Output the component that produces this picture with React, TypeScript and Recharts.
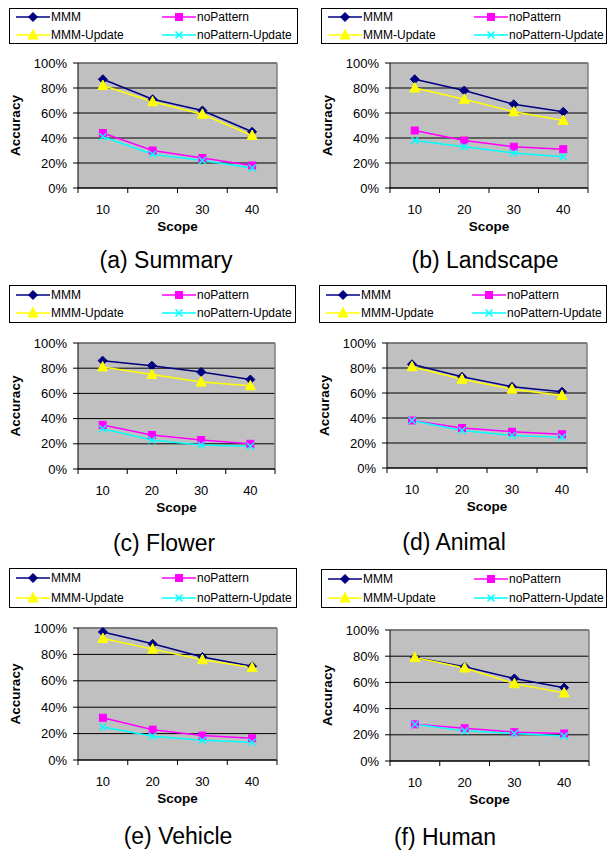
import React from 'react';
import { LineChart, Line, XAxis, YAxis, CartesianGrid, ReferenceLine, Legend, Label } from 'recharts';

const scopes = [10, 20, 30, 40];
const seriesNames = ['MMM', 'noPattern', 'MMM-Update', 'noPattern-Update'];
const yTicks = [0, 20, 40, 60, 80, 100];
// category boundaries (tick marks) and centres (labels)
const xTicks = [5, 10, 15, 20, 25, 30, 35, 40, 45];

// accuracy in %
const summaryMMM = [87, 71, 62, 45];
const summaryNoPattern = [44, 30, 24, 18];
const summaryMMMUpdate = [82, 69, 59, 42];
const summaryNoPatternUpdate = [41, 27, 22, 16];

const landscapeMMM = [87, 78, 67, 61];
const landscapeNoPattern = [46, 38, 33, 31];
const landscapeMMMUpdate = [80, 71, 61, 54];
const landscapeNoPatternUpdate = [38, 33, 28, 25];

const flowerMMM = [86, 82, 77, 71];
const flowerNoPattern = [35, 27, 23, 20];
const flowerMMMUpdate = [81, 75, 69, 66];
const flowerNoPatternUpdate = [32, 23, 19, 18];

const animalMMM = [83, 73, 65, 61];
const animalNoPattern = [38, 32, 29, 27];
const animalMMMUpdate = [81, 71, 63, 58];
const animalNoPatternUpdate = [38, 30, 26, 24.5];

const vehicleMMM = [97, 88, 78, 71];
const vehicleNoPattern = [32, 23, 18.5, 16.5];
const vehicleMMMUpdate = [92, 84, 76, 70];
const vehicleNoPatternUpdate = [25, 18, 15, 13.5];

const humanMMM = [79, 72, 63, 56];
const humanNoPattern = [28, 25, 22, 21];
const humanMMMUpdate = [79, 71, 59, 52];
const humanNoPatternUpdate = [28, 23, 21, 19];

const FONT = '"Liberation Sans", Arial, Helvetica, sans-serif';
const COLORS: Record<string, string> = {
  'MMM': '#000080',
  'noPattern': '#ff00ff',
  'MMM-Update': '#ffff00',
  'noPattern-Update': '#00ffff',
};

const TICK_SIZE = 5;
const TICK_MARGIN = 12;

const Marker = ({ kind, cx, cy }: { kind: string; cx: number; cy: number }) => {
  const c = COLORS[kind];
  if (kind === 'MMM') {
    return <polygon points={`${cx},${cy - 4.5} ${cx + 4.5},${cy} ${cx},${cy + 4.5} ${cx - 4.5},${cy}`} fill={c} stroke={c} />;
  }
  if (kind === 'noPattern') {
    return <rect x={cx - 3.5} y={cy - 3.5} width={7} height={7} fill={c} stroke={c} />;
  }
  if (kind === 'MMM-Update') {
    return <polygon points={`${cx},${cy - 5.5} ${cx + 5},${cy + 4} ${cx - 5},${cy + 4}`} fill={c} stroke={c} />;
  }
  return (
    <path
      d={`M${cx - 3.5},${cy - 3.5}L${cx + 3.5},${cy + 3.5}M${cx + 3.5},${cy - 3.5}L${cx - 3.5},${cy + 3.5}`}
      stroke={c}
      strokeWidth={1.5}
      fill="none"
    />
  );
};

const dotFor = (name: string) => (p: any) => (
  <Marker key={`${name}-${p.index}`} kind={name} cx={p.cx} cy={p.cy} />
);

// labels sit in the middle of each category, tick marks on the boundaries
const XTick = (props: any) => {
  const { x, y, payload } = props;
  if (payload.value % 10 === 0) {
    return (
      <text x={x} y={y} dy="0.71em" textAnchor="middle" fontSize={13} fill="#000">
        {payload.value}
      </text>
    );
  }
  return <line x1={x} x2={x} y1={y - TICK_SIZE - TICK_MARGIN} y2={y - TICK_MARGIN} stroke="#000" />;
};

const legendSlots = [
  { name: 'MMM', col: 0, row: 0 },
  { name: 'noPattern', col: 1, row: 0 },
  { name: 'MMM-Update', col: 0, row: 1 },
  { name: 'noPattern-Update', col: 1, row: 1 },
];

const LegendBox = ({ w, h }: { w: number; h: number }) => (
  <div
    style={{
      width: w,
      height: h,
      border: '1px solid #000',
      boxSizing: 'border-box',
      position: 'relative',
      background: '#fff',
      fontFamily: FONT,
      fontSize: 12,
      color: '#000',
    }}
  >
    {legendSlots.map((s) => {
      const left = s.col ? 152 : 6;
      const cy = s.row ? h * 0.74 - 1 : h * 0.26 - 1;
      return (
        <div key={s.name} style={{ position: 'absolute', left, top: cy - 7, height: 14, whiteSpace: 'nowrap' }}>
          <svg width={34} height={14} style={{ position: 'absolute', left: 0, top: 0 }}>
            <line x1={0} x2={34} y1={7} y2={7} stroke={COLORS[s.name]} strokeWidth={1.5} />
            <Marker kind={s.name} cx={17} cy={7} />
          </svg>
          <span style={{ position: 'absolute', left: 35, top: 0, lineHeight: '14px' }}>{s.name}</span>
        </div>
      );
    })}
  </div>
);

type Box = { l: number; r: number; t: number; b: number };

interface PanelProps {
  ox: number;
  oy: number;
  h: number;
  plot: Box;
  legend: { x: number; y: number; w: number; h: number };
  caption: string;
  capX: number;
  capY: number;
  series: number[][];
}

const Panel = ({ ox, oy, h, plot, legend, caption, capX, capY, series }: PanelProps) => {
  const data = scopes.map((s, i) => {
    const row: Record<string, number> = { scope: s };
    seriesNames.forEach((n, k) => {
      row[n] = series[k][i];
    });
    return row;
  });
  const w = 304;
  const yw = 70;
  const xh = 40;
  const margin = {
    top: plot.t - oy,
    left: plot.l - ox - yw,
    right: ox + w - plot.r,
    bottom: oy + h - plot.b - xh,
  };
  return (
    <div style={{ position: 'absolute', left: ox, top: oy, width: w, height: h }}>
      <LineChart width={w} height={h} data={data} margin={margin}>
        <CartesianGrid vertical={false} stroke="#000" fill="#c0c0c0" fillOpacity={1} />
        <XAxis
          dataKey="scope"
          type="number"
          domain={[5, 45]}
          ticks={xTicks}
          interval={0}
          height={xh}
          tickLine={false}
          tickSize={TICK_SIZE}
          tickMargin={TICK_MARGIN}
          tick={<XTick />}
          axisLine={{ stroke: '#000' }}
        >
          <Label
            content={({ viewBox }: any) => (
              <text
                x={viewBox.x + viewBox.width / 2}
                y={viewBox.y + 38 + 4.8}
                textAnchor="middle"
                fontSize={13.5}
                fontWeight="bold"
                fill="#000"
              >
                Scope
              </text>
            )}
          />
        </XAxis>
        <YAxis
          type="number"
          domain={[0, 100]}
          ticks={yTicks}
          width={yw}
          tickSize={5}
          tickMargin={6}
          tickFormatter={(v: number) => `${v}%`}
          tick={{ fill: '#000', fontSize: 13 }}
          axisLine={{ stroke: '#000' }}
          tickLine={{ stroke: '#000' }}
        >
          <Label
            content={({ viewBox }: any) => {
              const cx = viewBox.x + viewBox.width - 63;
              const cy = viewBox.y + viewBox.height / 2;
              return (
                <text
                  x={cx}
                  y={cy}
                  transform={`rotate(-90 ${cx} ${cy})`}
                  textAnchor="middle"
                  dominantBaseline="central"
                  fontSize={13.5}
                  fontWeight="bold"
                  fill="#000"
                >
                  Accuracy
                </text>
              );
            }}
          />
        </YAxis>
        <ReferenceLine y={100} stroke="#808080" strokeWidth={1.5} />
        <ReferenceLine x={45} stroke="#808080" strokeWidth={1.5} />
        {seriesNames.map((n) => (
          <Line
            key={n}
            type="linear"
            dataKey={n}
            stroke={COLORS[n]}
            strokeWidth={1.5}
            dot={dotFor(n)}
            activeDot={false}
            isAnimationActive={false}
          />
        ))}
        <Legend
          layout="horizontal"
          verticalAlign="middle"
          align="center"
          wrapperStyle={{ left: legend.x - ox, top: legend.y - oy, width: legend.w, height: legend.h }}
          content={() => <LegendBox w={legend.w} h={legend.h} />}
        />
      </LineChart>
      <div
        style={{
          position: 'absolute',
          left: capX - ox - 120,
          top: capY - oy - 11.3,
          width: 240,
          textAlign: 'center',
          fontSize: 23,
          lineHeight: '23px',
          color: '#000',
          whiteSpace: 'nowrap',
        }}
      >
        {caption}
      </div>
    </div>
  );
};

export default function App() {
  return (
    <div
      style={{
        position: 'absolute',
        left: 0,
        top: 0,
        width: 608,
        height: 852,
        background: '#fff',
        fontFamily: FONT,
      }}
    >
      <Panel
        ox={0}
        oy={0}
        h={280}
        plot={{ l: 78, r: 277, t: 63, b: 188 }}
        legend={{ x: 9, y: 8, w: 289, h: 36 }}
        caption="(a) Summary"
        capX={166}
        capY={260.5}
        series={[summaryMMM, summaryNoPattern, summaryMMMUpdate, summaryNoPatternUpdate]}
      />
      <Panel
        ox={304}
        oy={0}
        h={280}
        plot={{ l: 390, r: 588, t: 63, b: 188 }}
        legend={{ x: 321, y: 8, w: 286, h: 36 }}
        caption="(b) Landscape"
        capX={485}
        capY={260}
        series={[landscapeMMM, landscapeNoPattern, landscapeMMMUpdate, landscapeNoPatternUpdate]}
      />
      <Panel
        ox={0}
        oy={280}
        h={280}
        plot={{ l: 78, r: 275, t: 343, b: 469 }}
        legend={{ x: 9, y: 285, w: 287, h: 38 }}
        caption="(c) Flower"
        capX={164}
        capY={543}
        series={[flowerMMM, flowerNoPattern, flowerMMMUpdate, flowerNoPatternUpdate]}
      />
      <Panel
        ox={304}
        oy={280}
        h={280}
        plot={{ l: 387, r: 587, t: 343, b: 468 }}
        legend={{ x: 319, y: 285, w: 288, h: 38 }}
        caption="(d) Animal"
        capX={454}
        capY={542}
        series={[animalMMM, animalNoPattern, animalMMMUpdate, animalNoPatternUpdate]}
      />
      <Panel
        ox={0}
        oy={560}
        h={292}
        plot={{ l: 78, r: 277, t: 628, b: 760 }}
        legend={{ x: 9, y: 568, w: 288, h: 40 }}
        caption="(e) Vehicle"
        capX={178}
        capY={836.5}
        series={[vehicleMMM, vehicleNoPattern, vehicleMMMUpdate, vehicleNoPatternUpdate]}
      />
      <Panel
        ox={304}
        oy={560}
        h={292}
        plot={{ l: 390, r: 589, t: 630, b: 761 }}
        legend={{ x: 321, y: 569, w: 286, h: 39 }}
        caption="(f) Human"
        capX={445}
        capY={837}
        series={[humanMMM, humanNoPattern, humanMMMUpdate, humanNoPatternUpdate]}
      />
    </div>
  );
}
